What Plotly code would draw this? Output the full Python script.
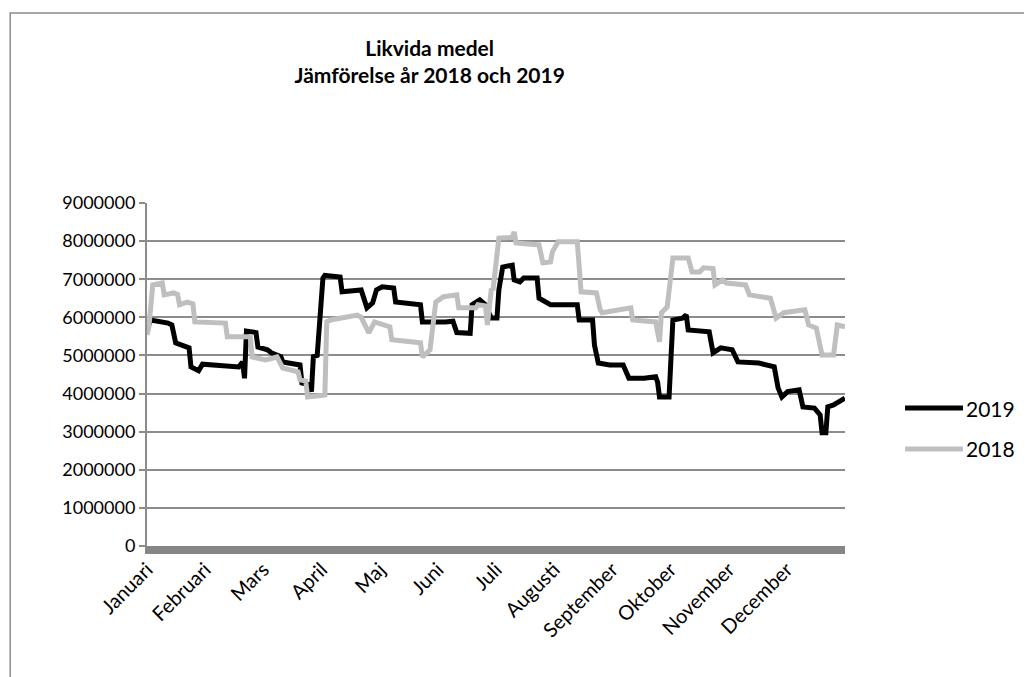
import plotly.graph_objects as go

manader = ["Januari", "Februari", "Mars", "April", "Maj", "Juni", "Juli",
           "Augusti", "September", "Oktober", "November", "December"]
manad_start = [0, 30.4, 60.8, 91.3, 121.7, 152.1, 182.5, 212.9, 243.3, 273.8, 304.2, 334.6]

dagar_2019 = [0, 2, 11, 13, 15, 20, 22, 23, 27, 29,
              48, 50, 51, 52, 57, 58, 63, 65, 70, 71,
              80, 81, 85, 86, 87, 89, 92, 93, 101, 102,
              112, 115, 118, 120, 123, 129, 130, 143, 144, 156,
              160, 162, 169, 170, 174, 177, 180, 183, 184, 186,
              191, 192, 195, 197, 204, 205, 211, 225, 226, 233,
              234, 236, 242, 249, 252, 260, 266, 267, 268, 273,
              275, 280, 282, 283, 294, 296, 300, 306, 309, 320,
              328, 330, 332, 335, 341, 343, 349, 352, 353, 355,
              356, 359, 365]
varden_2019 = [5700000, 5930000, 5850000, 5800000, 5330000, 5220000, 5200000, 4700000, 4600000, 4770000,
               4700000, 4830000, 4400000, 5640000, 5600000, 5220000, 5150000, 5070000, 4970000, 4830000,
               4750000, 4280000, 4230000, 4050000, 4970000, 5000000, 7030000, 7100000, 7060000, 6670000,
               6720000, 6250000, 6380000, 6720000, 6800000, 6770000, 6400000, 6330000, 5880000, 5880000,
               5900000, 5600000, 5580000, 6330000, 6460000, 6330000, 5980000, 5980000, 6720000, 7320000,
               7370000, 6980000, 6930000, 7030000, 7030000, 6500000, 6330000, 6330000, 5930000, 5930000,
               5270000, 4800000, 4750000, 4750000, 4400000, 4400000, 4440000, 4300000, 3910000, 3910000,
               5930000, 5980000, 6060000, 5670000, 5620000, 5070000, 5200000, 5150000, 4830000, 4800000,
               4700000, 4150000, 3910000, 4050000, 4100000, 3650000, 3620000, 3440000, 2970000, 2970000,
               3650000, 3700000, 3880000]

dagar_2018 = [0, 1, 3, 8, 9, 14, 16, 17, 21, 24,
              25, 41, 42, 54, 55, 62, 68, 71, 79, 80,
              83, 84, 93, 94, 96, 104, 110, 112, 116, 119,
              123, 127, 128, 143, 144, 148, 151, 155, 162, 163,
              172, 173, 177, 178, 180, 181, 184, 191, 192, 193,
              205, 207, 211, 212, 215, 225, 227, 235, 237, 238,
              253, 254, 266, 268, 269, 272, 275, 283, 285, 289,
              291, 296, 297, 301, 303, 313, 315, 326, 329, 333,
              344, 346, 350, 353, 359, 361, 365]
varden_2018 = [5540000, 5750000, 6850000, 6900000, 6590000, 6640000, 6600000, 6330000, 6400000, 6350000,
               5880000, 5850000, 5490000, 5490000, 4960000, 4880000, 4960000, 4670000, 4570000, 4360000,
               4330000, 3910000, 3960000, 5880000, 5930000, 6010000, 6060000, 6000000, 5590000, 5880000,
               5800000, 5750000, 5410000, 5330000, 4960000, 5150000, 6400000, 6540000, 6590000, 6250000,
               6250000, 6330000, 6300000, 5800000, 6720000, 6750000, 8080000, 8100000, 8240000, 7950000,
               7900000, 7430000, 7450000, 7720000, 7980000, 7980000, 6670000, 6640000, 6200000, 6120000,
               6250000, 5930000, 5880000, 5360000, 6120000, 6270000, 7560000, 7560000, 7190000, 7190000,
               7300000, 7280000, 6850000, 6980000, 6900000, 6850000, 6590000, 6500000, 5980000, 6120000,
               6200000, 5800000, 5720000, 5010000, 5010000, 5800000, 5750000]

y_ticks = [0, 1000000, 2000000, 3000000, 4000000, 5000000, 6000000, 7000000, 8000000, 9000000]

serier = [("2019", "#000000"), ("2018", "#bfbfbf")]

FONT = "Lato, 'Open Sans', sans-serif"

fig = go.Figure()
fig.add_trace(go.Scatter(x=dagar_2019, y=varden_2019, mode="lines", name=serier[0][0],
                         line=dict(color=serier[0][1], width=5)))
fig.add_trace(go.Scatter(x=dagar_2018, y=varden_2018, mode="lines", name=serier[1][0],
                         line=dict(color=serier[1][1], width=5)))

fig.update_layout(
    width=1024, height=669,
    margin=dict(l=139, r=187, t=195, b=131),
    paper_bgcolor="white", plot_bgcolor="white",
    font=dict(family=FONT, size=18, color="#000000"),
    title=dict(text="<b>Likvida medel<br>Jämförelse år 2018 och 2019</b>",
               x=0.405, xref="paper", xanchor="center",
               y=0.928, yref="container", yanchor="middle",
               font=dict(family=FONT, size=21, color="#000000")),
    showlegend=False,
    xaxis=dict(range=[0, 365], tickmode="array", tickvals=manad_start, ticktext=manader,
               tickangle=-45, showgrid=False, zeroline=False,
               showline=True, linecolor="#868686", linewidth=8,
               ticks="", tickfont=dict(size=20), ticklabelstandoff=-4),
    yaxis=dict(range=[0, 9000000], tickmode="array", tickvals=y_ticks,
               ticktext=[str(v) for v in y_ticks],
               showgrid=True, gridcolor="#8c8c8c", gridwidth=1.5,
               zeroline=False, showline=True, linecolor="#8c8c8c", linewidth=2,
               ticks="outside", ticklen=6, tickcolor="#8c8c8c", tickwidth=1.5,
               tickfont=dict(size=18)),
)

# Chart frame
fig.add_shape(type="rect", xref="paper", yref="paper",
              x0=-0.196, x1=1.30, y0=-0.45, y1=1.554,
              line=dict(color="#8c8c8c", width=1.5), fillcolor="rgba(0,0,0,0)", layer="below")

# Legend (drawn manually to match long line samples)
for (namn, farg), ly in zip(serier, [0.402, 0.283]):
    fig.add_shape(type="line", xref="paper", yref="paper", x0=1.086, x1=1.169, y0=ly, y1=ly,
                  line=dict(color=farg, width=5))
    fig.add_annotation(text=namn, xref="paper", yref="paper", x=1.171, y=ly,
                       xanchor="left", yanchor="middle", showarrow=False,
                       font=dict(family=FONT, size=21, color="#000000"))

fig.write_html("out.html")
